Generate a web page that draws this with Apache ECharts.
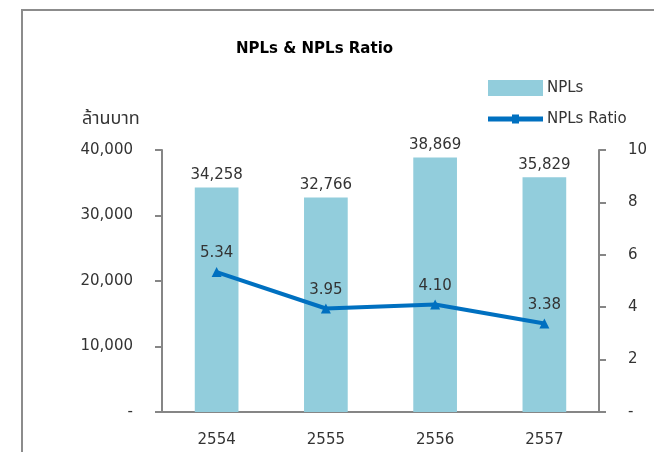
<!DOCTYPE html>
<html><head><meta charset="utf-8">
<script src="https://cdn.jsdelivr.net/npm/echarts@6/dist/echarts.min.js"></script>
<style>html,body{margin:0;padding:0;background:#fff}#c{width:654px;height:452px}</style>
</head><body><div id="c"></div>
<script>
var categories = ['2554', '2555', '2556', '2557'];
var nplValues = [34258, 32766, 38869, 35829];
var ratioValues = [5.34, 3.95, 4.10, 3.38];
var leftTicks = [0, 10000, 20000, 30000, 40000];
var rightTicks = [0, 2, 4, 6, 8, 10];

var FONT = 'Tahoma, "DejaVu Sans", "Noto Sans", "Noto Sans Thai", sans-serif';
var lineIcon = 'path://M0,0 L0.01,0 L0,0.01 Z M0,5.5 L55,5.5 L55,10.5 L0,10.5 Z M24,3.5 L31,3.5 L31,12.5 L24,12.5 Z M55,16 L54.99,16 L55,15.99 Z';
var chart = echarts.init(document.getElementById('c'));
chart.setOption({
  animation: false,
  textStyle: {fontFamily: FONT},
  title: {text: 'NPLs & NPLs Ratio', left: 231, top: 37,
    textStyle: {fontSize: 15, fontWeight: 'bold', color: '#000', fontFamily: FONT}},
  legend: {orient: 'vertical', left: 488, top: 80, padding: 0, itemWidth: 55, itemHeight: 16, itemGap: 15,
    textStyle: {fontSize: 15, color: '#333', fontFamily: FONT, padding: [0, 0, 0, -1]},
    data: [{name: 'NPLs', icon: 'rect'}, {name: 'NPLs Ratio', icon: lineIcon, itemStyle: {color: '#0070C0'}}]},
  graphic: [
    {type: 'rect', shape: {x: 22, y: 10, width: 800, height: 600}, style: {fill: 'none', stroke: '#8c8c8c', lineWidth: 2}},
    {type: 'text', left: 82, top: 110, style: {text: 'ล้านบาท', fill: '#333', font: '18px ' + FONT}}
  ],
  grid: {left: 162, right: 55, top: 150, bottom: 40},
  xAxis: {type: 'category', data: categories, boundaryGap: true,
    axisLine: {lineStyle: {color: '#868686', width: 2}},
    axisTick: {length: 7, lineStyle: {color: '#868686', width: 2}},
    axisLabel: {margin: 21, fontSize: 15, color: '#333', fontFamily: FONT}},
  yAxis: [
    {type: 'value', min: leftTicks[0], max: leftTicks[leftTicks.length - 1], interval: 10000,
      axisLine: {show: true, lineStyle: {color: '#868686', width: 2}},
      axisTick: {show: true, length: 7, lineStyle: {color: '#868686', width: 2}},
      splitLine: {show: false},
      axisLabel: {margin: 29, fontSize: 15, color: '#333', fontFamily: FONT,
        formatter: function (v) { return v === 0 ? '-' : v.toLocaleString('en-US'); }}},
    {type: 'value', min: rightTicks[0], max: rightTicks[rightTicks.length - 1], interval: 2,
      position: 'right',
      axisLine: {show: true, lineStyle: {color: '#868686', width: 2}},
      axisTick: {show: true, length: 7, lineStyle: {color: '#868686', width: 2}},
      splitLine: {show: false},
      axisLabel: {margin: 29, fontSize: 15, color: '#333', fontFamily: FONT,
        formatter: function (v) { return v === 0 ? '-' : String(v); }}}
  ],
  series: [
    {name: 'NPLs', type: 'bar', data: nplValues, barWidth: '40%',
      itemStyle: {color: '#92CDDC'},
      label: {show: true, position: 'top', distance: 5, fontSize: 15, color: '#333', fontFamily: FONT,
        formatter: function (p) { return p.value.toLocaleString('en-US'); }}},
    {name: 'NPLs Ratio', type: 'line', yAxisIndex: 1, data: ratioValues,
      symbol: 'triangle', symbolSize: 10,
      lineStyle: {color: '#0070C0', width: 4}, itemStyle: {color: '#0070C0'},
      label: {show: true, position: 'top', distance: 6, fontSize: 15, color: '#333', fontFamily: FONT,
        formatter: function (p) { return p.value.toFixed(2); }}}
  ]
});
</script></body></html>
